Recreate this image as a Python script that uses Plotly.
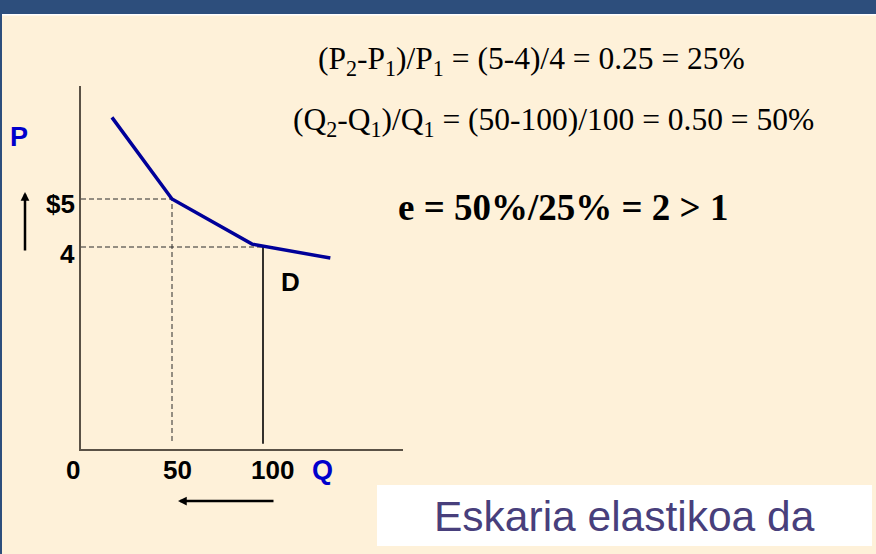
"""Price elasticity of demand: elastic case (slide recreation)."""

import plotly.graph_objects as go

# demand curve (Q, P)
demand_q = [17, 50, 94, 137]
demand_p = [6.7, 5.0, 4.06, 3.77]

# the two price/quantity points being compared
price_points = [5, 4]
price_labels = ["$5", "4"]
qty_points = [50, 100]
qty_ticks = [0, 50, 100]
qty_labels = ["0", "50", "100"]

formula_p = "(P<sub>2</sub>-P<sub>1</sub>)/P<sub>1</sub> = (5-4)/4 = 0.25 = 25%"
formula_q = "(Q<sub>2</sub>-Q<sub>1</sub>)/Q<sub>1</sub> = (50-100)/100 = 0.50 = 50%"
formula_e = "e = 50%/25% = 2 &gt; 1"
verdict = "Eskaria elastikoa da"

W, H = 876, 554
L, R, T, B = 81, 403, 86, 449  # plot area in page pixels
X_RANGE = [0, (R - L) / 1.82]
Y_RANGE = [-0.208, 7.354]
Y_FLOOR = -0.1  # where the drop lines stop, just above the axis

SERIF = "Liberation Serif, Times New Roman, serif"
SANS = "Liberation Sans, Arial, sans-serif"


def px(x):
    return (x - L) / (R - L)


def py(y):
    return (B - y) / (B - T)


def label(x, y, text, font, **kw):
    d = dict(x=px(x), y=py(y), xref="paper", yref="paper", text=text, showarrow=False,
             xanchor="center", yanchor="middle", font=font)
    d.update(kw)
    return d


fig = go.Figure()

# guide lines at P1/P2 and Q1/Q2
fig.add_trace(go.Scatter(
    x=[0, qty_points[0], qty_points[0]], y=[price_points[0], price_points[0], Y_FLOOR],
    mode="lines", line=dict(color="#2a2a2a", width=1, dash="5px,3px"),
    hoverinfo="skip", showlegend=False,
))
fig.add_trace(go.Scatter(
    x=[0, qty_points[1]], y=[price_points[1], price_points[1]],
    mode="lines", line=dict(color="#2a2a2a", width=1, dash="5px,3px"),
    hoverinfo="skip", showlegend=False,
))
fig.add_trace(go.Scatter(
    x=[qty_points[1], qty_points[1]], y=[price_points[1], Y_FLOOR],
    mode="lines", line=dict(color="#000000", width=1.6),
    hoverinfo="skip", showlegend=False,
))

# demand curve
fig.add_trace(go.Scatter(
    x=demand_q, y=demand_p, mode="lines",
    line=dict(color="#000099", width=3.5),
    showlegend=False,
))

ann = []
bold_num = dict(family=SANS, size=26, color="#000000", weight="bold")
bold_blue = dict(family=SANS, size=27, color="#0000cc", weight="bold")

for v, t, sh in zip(price_points, price_labels, [-5, -7]):
    ann.append(dict(x=0, y=v, xref="x", yref="y", text=t, showarrow=False,
                    xanchor="right", yanchor="middle", xshift=-4, yshift=sh, font=bold_num))
for v, t, sh in zip(qty_ticks, qty_labels, [-8, 5, 9]):
    ann.append(dict(x=v, y=py(470), xref="x", yref="paper", text=t, showarrow=False,
                    xanchor="center", yanchor="middle", xshift=sh, font=bold_num))

ann.append(label(19, 137, "P", bold_blue))
ann.append(label(322, 470, "Q", bold_blue))
ann.append(label(290, 282, "D", bold_num))

# direction arrows
ann.append(dict(x=px(25), y=py(192), xref="paper", yref="paper", ax=0, ay=60,
                text="", showarrow=True, arrowhead=2, arrowsize=0.7, arrowwidth=2.5,
                arrowcolor="#000000"))
ann.append(dict(x=px(178), y=py(501), xref="paper", yref="paper", ax=97, ay=0,
                text="", showarrow=True, arrowhead=2, arrowsize=0.7, arrowwidth=2.5,
                arrowcolor="#000000"))

# formulas
ann.append(label(531, 61, formula_p, dict(family=SERIF, size=31.5, color="#000000")))
ann.append(label(553, 122, formula_q, dict(family=SERIF, size=31.5, color="#000000")))
ann.append(label(563, 207, "<b>" + formula_e + "</b>", dict(family=SERIF, size=37, color="#000000")))

# verdict box
ann.append(label(624, 516, verdict, dict(family=SANS, size=42.5, color="#483f7c")))

shapes = [
    dict(type="rect", xref="paper", yref="paper", x0=px(-5), x1=px(W + 5), y0=py(14), y1=py(-5),
         fillcolor="#2d4e7c", line=dict(width=0), layer="below"),
    dict(type="rect", xref="paper", yref="paper", x0=px(2), x1=px(W + 5), y0=py(15.5), y1=py(14),
         fillcolor="#ffffff", line=dict(width=0), layer="below"),
    dict(type="rect", xref="paper", yref="paper", x0=px(-5), x1=px(2), y0=py(H + 5), y1=py(-5),
         fillcolor="#2d4e7c", line=dict(width=0), layer="below"),
    dict(type="rect", xref="paper", yref="paper", x0=px(377), x1=px(872), y0=py(546), y1=py(485),
         fillcolor="#ffffff", line=dict(width=0), layer="below"),
]

fig.update_layout(
    width=W, height=H,
    margin=dict(l=L, r=W - R, t=T, b=H - B, pad=0),
    font=dict(family=SANS, size=26, color="#000000"),
    paper_bgcolor="#fef1d9",
    plot_bgcolor="rgba(0,0,0,0)",
    xaxis=dict(range=X_RANGE, showgrid=False, zeroline=False, showticklabels=False,
               showline=True, linecolor="#5a5246", linewidth=1.5, ticks=""),
    yaxis=dict(range=Y_RANGE, showgrid=False, zeroline=False, showticklabels=False,
               showline=True, linecolor="#5a5246", linewidth=1.5, ticks=""),
    annotations=ann,
    shapes=shapes,
    showlegend=False,
)

fig.write_html("out.html", config={"displayModeBar": False},
               post_script="document.body.style.margin='0';")
